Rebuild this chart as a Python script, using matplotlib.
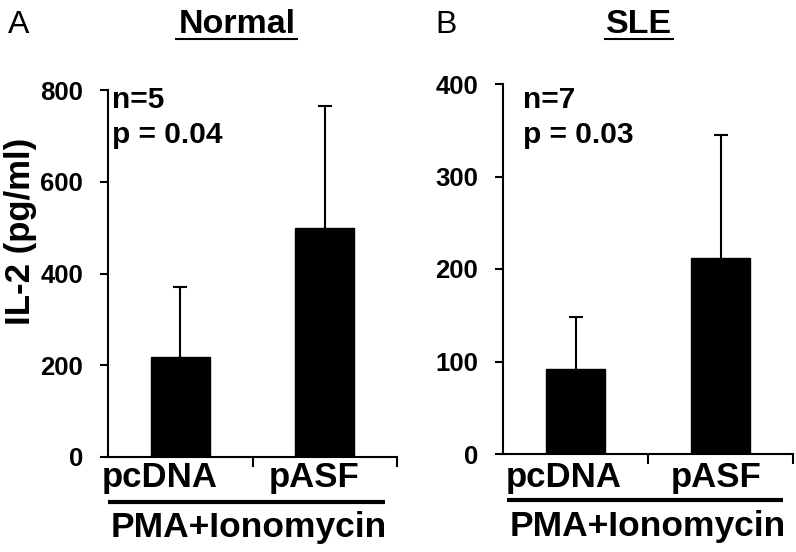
import matplotlib
matplotlib.use("Agg")
import matplotlib.pyplot as plt
from matplotlib.lines import Line2D
from matplotlib.transforms import ScaledTranslation

# ---- data ----
categories = ["pcDNA", "pASF"]
normal_values = [218, 500]
normal_errors = [152, 265]
sle_values = [92, 212]
sle_errors = [56, 133]
normal_ticks = [0, 200, 400, 600, 800]
sle_ticks = [0, 100, 200, 300, 400]
panel_titles = ["Normal", "SLE"]
panel_letters = ["A", "B"]
annotations = [["n=5", "p = 0.04"], ["n=7", "p = 0.03"]]
treatment = "PMA+Ionomycin"
ylabel = "IL-2 (pg/ml)"

W, H = 796, 552
plt.rcParams['font.family'] = ['Liberation Sans', 'DejaVu Sans']
fig = plt.figure(figsize=(W / 100, H / 100), dpi=100)


def fx(px):
    return px / W


def fy(py):
    return 1 - py / H


def make_axes(x0, x1, y0, y1):
    return fig.add_axes([fx(x0), fy(y1), (x1 - x0) / W, (y1 - y0) / H])


panels = [
    dict(ax=make_axes(108, 397, 90, 457), vals=normal_values, errs=normal_errors,
         ticks=normal_ticks, lab_dx=[-20, -11], title_x=237, under=(176, 297),
         letter_x=8, ann_x=112, line=(108, 385, 502), pma_x=248.5, pma_y=537,
         ax_y=457, ax_h=367),
    dict(ax=make_axes(503, 793, 84, 454), vals=sle_values, errs=sle_errors,
         ticks=sle_ticks, lab_dx=[-12, -4], title_x=639, under=(605, 673),
         letter_x=435, ann_x=523, line=(507, 783, 500), pma_x=647.5, pma_y=536,
         ax_y=454, ax_h=370),
]

for i, p in enumerate(panels):
    ax = p["ax"]
    xs = list(range(len(categories)))
    ax.bar(xs, p["vals"], width=0.41, color="black", edgecolor="black", zorder=2)
    cont = ax.errorbar(xs, p["vals"], yerr=[[0] * len(xs), p["errs"]], fmt="none",
                       ecolor="black", elinewidth=1.5, capsize=4.7, capthick=1.5, zorder=3)
    caps = cont.lines[1]
    if len(caps) >= 2:
        caps[0].set_visible(False)
    ax.set_xlim(-0.5, 1.5)
    ax.set_ylim(p["ticks"][0], p["ticks"][-1])
    ax.set_yticks(p["ticks"])
    ax.set_yticklabels([str(t) for t in p["ticks"]], fontsize=18.5, fontweight="bold")
    ax.set_xticks([0.5, 1.5])
    ax.set_xticklabels([])
    for s in ["top", "right"]:
        ax.spines[s].set_visible(False)
    for s in ["left", "bottom"]:
        ax.spines[s].set_linewidth(1.5)
    ax.tick_params(axis="y", direction="out", length=6, width=1.5, pad=12)
    ax.tick_params(axis="x", direction="out", length=7, width=1.5)
    ax.spines["bottom"].set_zorder(4)

    # category labels
    for k, cat in enumerate(categories):
        trans = ax.get_xaxis_transform() + ScaledTranslation(p["lab_dx"][k] / 100, 0, fig.dpi_scale_trans)
        ax.text(k, (p["ax_y"] - 487) / p["ax_h"], cat, transform=trans, ha="center", va="baseline",
                fontsize=25, fontweight="bold", clip_on=False)

    # annotations
    fig.text(fx(p["ann_x"]), fy(108), annotations[i][0], fontsize=21.5, fontweight="bold",
             ha="left", va="baseline")
    fig.text(fx(p["ann_x"]), fy(143), annotations[i][1], fontsize=21.5, fontweight="bold",
             ha="left", va="baseline")

    # title with underline
    fig.text(fx(p["title_x"]), fy(33), panel_titles[i], fontsize=24.5, fontweight="bold",
             ha="center", va="baseline")
    fig.add_artist(Line2D([fx(p["under"][0]), fx(p["under"][1])], [fy(39), fy(39)],
                          color="black", lw=1.5, transform=fig.transFigure))
    # panel letter
    fig.text(fx(p["letter_x"]), fy(33), panel_letters[i], fontsize=23, ha="left", va="baseline")

    # treatment bar and label
    x0, x1, yl = p["line"]
    fig.add_artist(Line2D([fx(x0), fx(x1)], [fy(yl), fy(yl)], color="black", lw=3,
                          transform=fig.transFigure, solid_capstyle="butt"))
    fig.text(fx(p["pma_x"]), fy(p["pma_y"]), treatment, fontsize=25.5, fontweight="bold",
             ha="center", va="baseline")

fig.text(fx(21), fy(231), ylabel, rotation=90, fontsize=25, fontweight="bold",
         ha="center", va="center")

fig.savefig("out.png", dpi=100)
